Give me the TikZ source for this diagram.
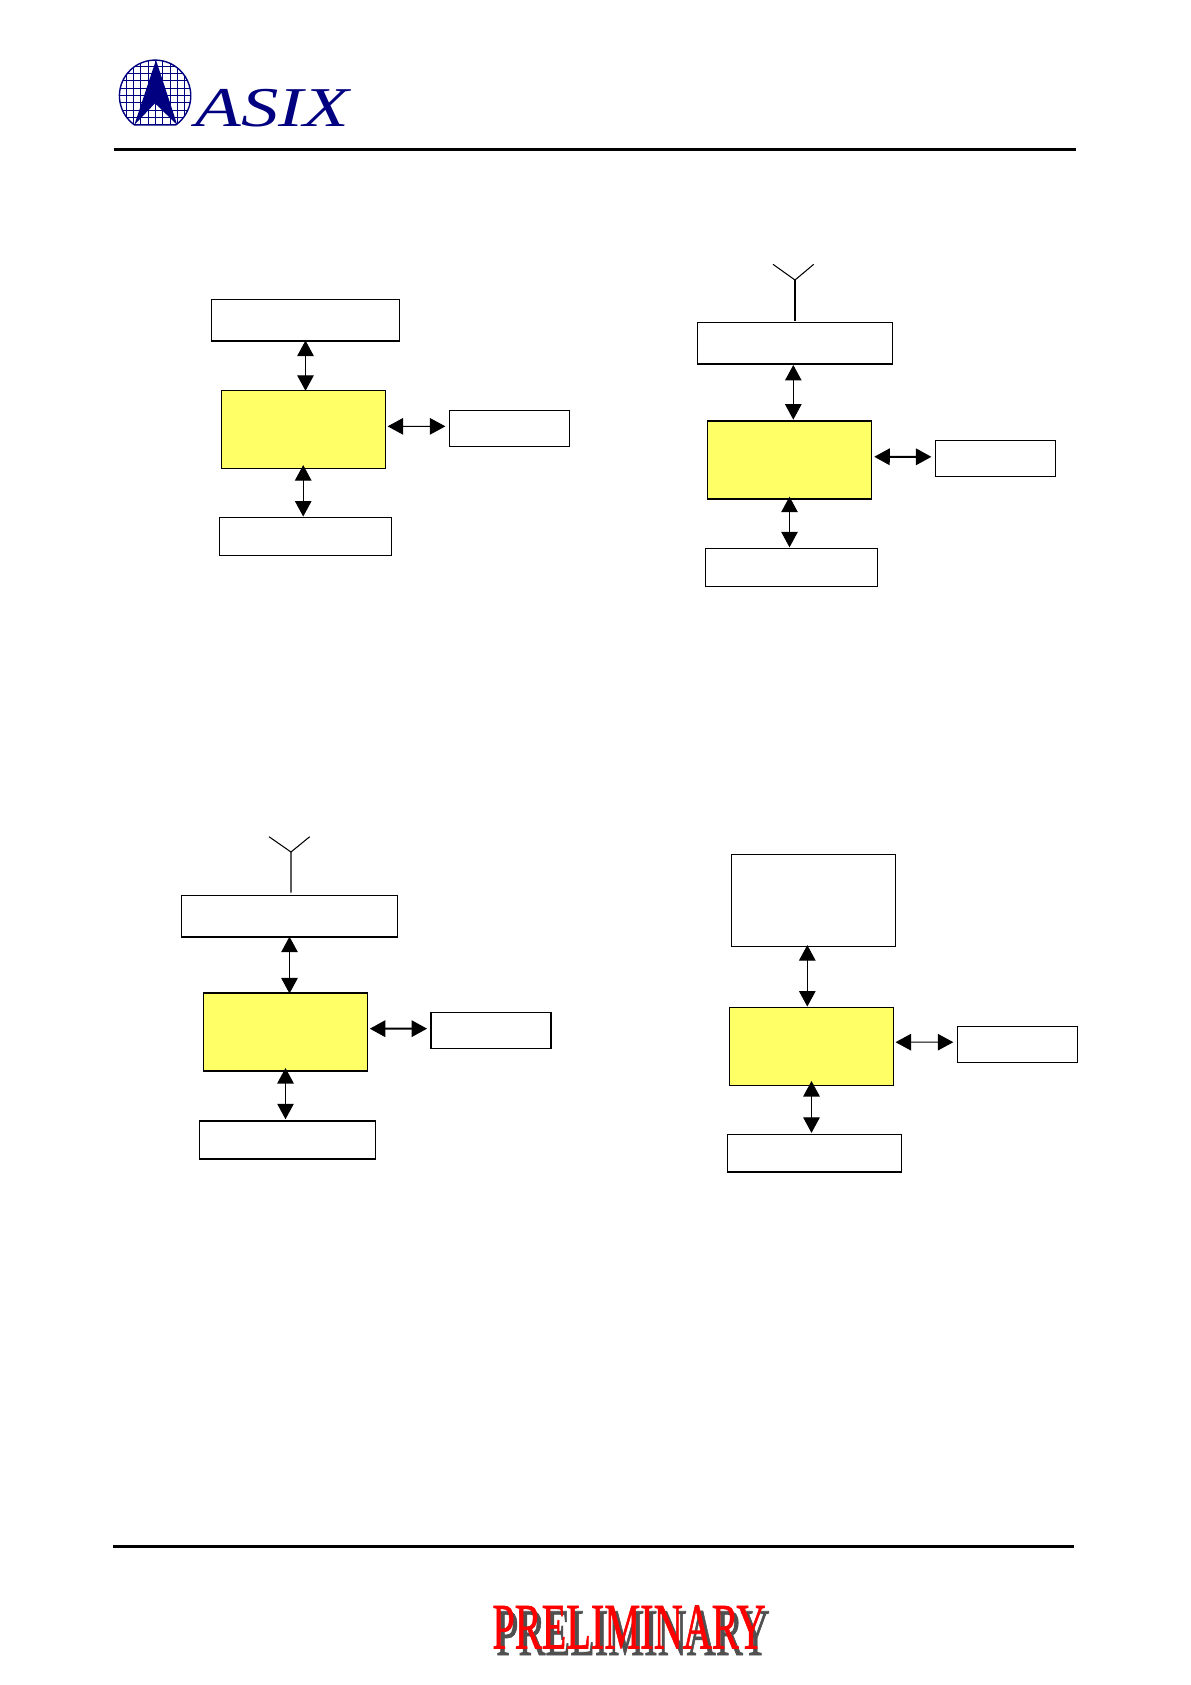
\documentclass[tikz,border=0pt]{standalone}
\usepackage{fontspec}
\setmainfont{Liberation Serif}
\newfontfamily\prelimfont[FakeBold=1.2]{Liberation Serif}
\usepackage{xcolor}
\usepackage{tikz}
\usetikzlibrary{arrows.meta,positioning}
\definecolor{logoblue}{RGB}{0,0,128}
\definecolor{bocoyellow}{RGB}{255,255,102}
\definecolor{shadowgray}{RGB}{80,80,80}
\tikzset{
    bloco/.style={
        rectangle,
        draw,
        line width=0.6pt,
        inner sep=0pt,
        fill=white
    },
    bridge/.style={bloco, fill=bocoyellow, minimum width=3.28cm, minimum height=1.56cm},
    host/.style={bloco, minimum width=2.4cm, minimum height=0.72cm},
    storage/.style={bloco, minimum height=0.76cm},
    radio/.style={bloco, minimum height=0.82cm},
    heavy/.style={line width=1.1pt},
    fluxo/.style={{Triangle[length=0.31cm,width=0.33cm]}-{Triangle[length=0.31cm,width=0.33cm]}, line width=0.6pt, shorten <=-0.01cm, shorten >=-0.02cm},
    antena/.style={line width=0.6pt},
    regua/.style={line width=1.9pt}
}

\begin{document}
\begin{tikzpicture}[x=0.02cm, y=-0.02cm]
    \useasboundingbox (0,0) rectangle (1191,1685);

    % logo
    \begin{scope}
        \clip (155,95.7) circle (35.7);
        \clip (110,55) rectangle (200,125);
        \foreach \gx in {126,133.3,...,190} \draw[logoblue, line width=0.3pt] (\gx,55) -- (\gx,125);
        \foreach \gy in {66,73.3,...,125} \draw[logoblue, line width=0.3pt] (110,\gy) -- (200,\gy);
    \end{scope}
    \draw[logoblue, line width=0.8pt] (134.6,125) arc[start angle=125.1, end angle=414.9, radius=35.7] -- cycle;
    \fill[logoblue] (156,60) -- (177.3,125) -- (155,103.3) -- (134.3,125) -- cycle;
    \node[logoblue, anchor=base west, inner sep=0pt, font=\itshape\fontsize{32}{32}\selectfont, xscale=1.33] (logo) at (195,126) {ASIX};
    \coordinate (regualeft) at (113.5,149.3);
    \coordinate (reguaright) at (1076,149.3);
    \draw[regua] (regualeft) -- (reguaright);

    % first group
    \node[radio, minimum width=3.76cm] (topa) at (305.5,320) {};
    \node[bridge, below=0.976cm of topa, xshift=-0.046cm] (bridgea) {};
    \node[host, right=1.26cm of bridgea, yshift=0.02cm] (hosta) {};
    \node[storage, below=0.96cm of bridgea, xshift=0.044cm, minimum width=3.44cm] (storea) {};
    \draw[heavy] (topa.south west) -- (topa.south east);
    \draw[fluxo] (topa.south) -- (topa.south |- bridgea.north);
    \draw[fluxo] ([yshift=0.066cm]bridgea.south) -- ([yshift=0.026cm]bridgea.south |- storea.north);
    \draw[fluxo] ([xshift=0.048cm,yshift=0.06cm]bridgea.east) -- ([xshift=-0.086cm,yshift=0.04cm]hosta.west);

    % second group
    \node[radio, minimum width=3.9cm] (topb) at (795,343.15) {};
    \node[bridge, heavy, below=1.11cm of topb, xshift=-0.11cm] (bridgeb) {};
    \node[host, right=1.245cm of bridgeb, yshift=0.03cm] (hostb) {};
    \node[storage, below=0.967cm of bridgeb, xshift=0.04cm, minimum width=3.44cm] (storeb) {};
    \draw[heavy] (topb.south west) -- (topb.south east);
    \coordinate (antenab) at (795,280);
    \draw[antena] ([yshift=0.03cm]topb.north) -- (antenab);
    \draw[antena] (773,264.3) -- (antenab) -- (813.7,264.3);
    \draw[fluxo] ([xshift=-0.034cm,yshift=-0.026cm]topb.south) -- ([xshift=-0.034cm,yshift=0.02cm]topb.south |- bridgeb.north);
    \draw[fluxo] ([yshift=0.048cm]bridgeb.south) -- ([yshift=0.032cm]bridgeb.south |- storeb.north);
    \draw[fluxo, heavy] ([xshift=0.046cm,yshift=0.057cm]bridgeb.east) -- ([xshift=-0.086cm,yshift=0.026cm]hostb.west);

    % third group
    \node[radio, minimum width=4.32cm] (topc) at (289.5,916.15) {};
    \node[bridge, below=1.106cm of topc, xshift=-0.08cm] (bridgec) {};
    \node[host, heavy, right=1.247cm of bridgec, yshift=0.03cm] (hostc) {};
    \node[storage, heavy, below=0.963cm of bridgec, xshift=0.04cm, minimum width=3.52cm] (storec) {};
    \draw[heavy] (topc.south west) -- (topc.south east);
    \coordinate (antenac) at (291,852);
    \draw[antena] ([xshift=0.03cm,yshift=0.05cm]topc.north) -- (antenac);
    \draw[antena] (269,836.7) -- (antenac) -- (309.7,836.7);
    \draw[fluxo] (topc.south) -- (topc.south |- bridgec.north);
    \draw[fluxo] ([yshift=0.06cm]bridgec.south) -- ([yshift=0.028cm]bridgec.south |- storec.north);
    \draw[fluxo, heavy] ([xshift=0.046cm,yshift=0.066cm]bridgec.east) -- ([xshift=-0.086cm,yshift=0.037cm]hostc.west);

    % fourth group
    \node[bloco, minimum width=3.28cm, minimum height=1.85cm] (topd) at (813.5,900.5) {};
    \node[bridge, below=1.192cm of topd, xshift=-0.04cm] (bridged) {};
    \node[host, right=1.252cm of bridged, yshift=0.044cm] (hostd) {};
    \node[storage, below=0.952cm of bridged, xshift=0.06cm, minimum width=3.48cm] (stored) {};
    \draw[fluxo] ([xshift=-0.124cm,yshift=0.034cm]topd.south) -- ([xshift=-0.124cm,yshift=0.026cm]topd.south |- bridged.north);
    \draw[fluxo] ([yshift=0.088cm]bridged.south) -- ([yshift=0.032cm]bridged.south |- stored.north);
    \draw[fluxo] ([xshift=0.04cm,yshift=0.084cm]bridged.east) -- ([xshift=-0.086cm,yshift=0.04cm]hostd.west);

    % footer
    \coordinate (pesleft) at (113.3,1546.6);
    \coordinate (pesright) at (1074,1546.6);
    \draw[regua] (pesleft) -- (pesright);
    \node[shadowgray, inner sep=0pt, font=\prelimfont\fontsize{38}{38}\selectfont, xscale=0.605] (prelimshadow) at (633,1633) {PRELIMINARY};
    \node[red, inner sep=0pt, font=\prelimfont\fontsize{37}{37}\selectfont, xscale=0.62] (prelim) at (629,1627) {PRELIMINARY};
\end{tikzpicture}
\end{document}
